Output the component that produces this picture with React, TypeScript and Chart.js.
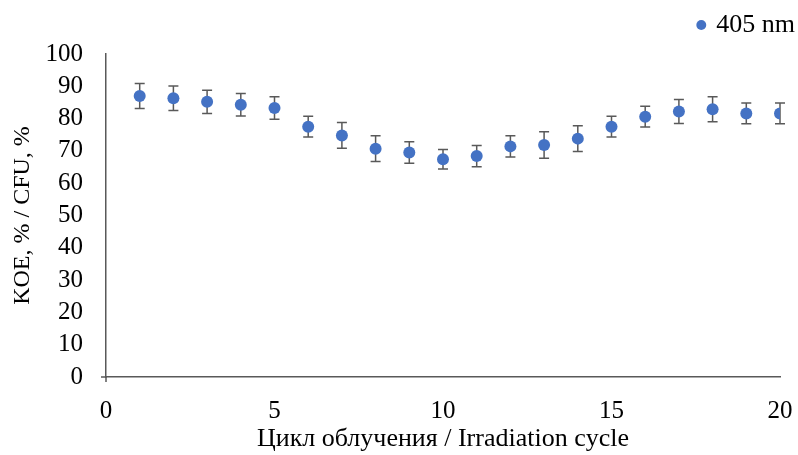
import React, { useEffect, useRef } from "react";
import { Chart, registerables } from "chart.js";

Chart.register(...registerables);

const cycles = [1, 2, 3, 4, 5, 6, 7, 8, 9, 10, 11, 12, 13, 14, 15, 16, 17, 18, 19, 20];
const values = [87.0, 86.3, 85.2, 84.3, 83.3, 77.5, 74.8, 70.7, 69.5, 67.4, 68.4, 71.4, 71.8, 73.8, 77.5, 80.6, 82.2, 82.9, 81.6, 81.6];
const errors = [3.9, 3.8, 3.6, 3.5, 3.5, 3.2, 4.0, 4.0, 3.3, 3.0, 3.3, 3.3, 4.1, 4.0, 3.2, 3.2, 3.7, 3.9, 3.2, 3.2];
const seriesLabel = "405 nm";
const xTitle = "Цикл облучения / Irradiation cycle";
const yTitle = "KOE, % / CFU, %";

const FONT = "'Liberation Serif', 'Times New Roman', serif";

const legendSpacingPlugin = {
  id: "legendSpacing",
  beforeLayout(chart: any) {
    const lg = chart.legend;
    if (lg && !lg._spacingPatched) {
      const orig = lg.fit;
      lg.fit = function () {
        orig.call(this);
        this.height += 6;
      };
      lg._spacingPatched = true;
    }
  },
};

const errorBarPlugin = {
  id: "errorBars",
  beforeDatasetsDraw(chart: any) {
    const { ctx, scales, chartArea } = chart;
    const xs = scales.x;
    const ys = scales.y;
    ctx.save();
    ctx.strokeStyle = "#595959";
    ctx.lineWidth = 1.5;
    ctx.beginPath();
    ctx.moveTo(chartArea.left - 5, chartArea.bottom);
    ctx.lineTo(chartArea.left, chartArea.bottom);
    ctx.moveTo(chartArea.left, chartArea.bottom);
    ctx.lineTo(chartArea.left, chartArea.bottom + 5);
    ctx.stroke();
    cycles.forEach((c, i) => {
      const px = xs.getPixelForValue(c);
      const top = ys.getPixelForValue(values[i] + errors[i]);
      const bot = ys.getPixelForValue(values[i] - errors[i]);
      ctx.beginPath();
      ctx.moveTo(px, top);
      ctx.lineTo(px, bot);
      ctx.moveTo(px - 5, top);
      ctx.lineTo(px + 5, top);
      ctx.moveTo(px - 5, bot);
      ctx.lineTo(px + 5, bot);
      ctx.stroke();
    });
    ctx.restore();
  },
};

export default function App() {
  const ref = useRef<HTMLCanvasElement>(null);
  useEffect(() => {
    if (!ref.current) return;
    const chart = new Chart(ref.current, {
      type: "scatter",
      data: {
        datasets: [
          {
            label: seriesLabel,
            data: cycles.map((c, i) => ({ x: c, y: values[i] })),
            backgroundColor: "#4472C4",
            borderColor: "#4472C4",
            pointRadius: 6,
            pointHoverRadius: 6,
            pointBorderWidth: 0,
          },
        ],
      },
      options: {
        animation: false,
        responsive: false,
        layout: { padding: { left: 8, right: 0, top: 0, bottom: 0 } },
        plugins: {
          tooltip: { enabled: false },
          legend: {
            position: "top",
            align: "end",
            labels: {
              usePointStyle: true,
              pointStyle: "circle",
              boxWidth: 4,
              boxHeight: 7,
              color: "#000",
              font: { family: FONT, size: 26 },
              padding: 3,
            },
          },
        },
        scales: {
          x: {
            type: "linear",
            min: 0,
            max: 20,
            afterFit: (s: any) => {
              s.height = 78;
              s.paddingRight = 18;
            },
            ticks: {
              stepSize: 5,
              autoSkip: false,
              color: "#000",
              font: { family: FONT, size: 25 },
              padding: 19,
            },
            grid: { display: false, drawTicks: false },
            border: { display: true, color: "#595959", width: 1.5 },
            title: {
              display: true,
              text: xTitle,
              color: "#000",
              font: { family: FONT, size: 26 },
              padding: { top: 0, bottom: 0 },
            },
          },
          y: {
            min: 0,
            max: 100,
            afterFit: (s: any) => {
              s.width = 98;
              s.paddingTop = 54;
            },
            ticks: {
              stepSize: 10,
              autoSkip: false,
              color: "#000",
              font: { family: FONT, size: 25 },
              padding: 23,
            },
            grid: { display: false, drawTicks: false },
            border: { display: true, color: "#595959", width: 1.5 },
            title: {
              display: true,
              text: yTitle,
              color: "#000",
              font: { family: FONT, size: 24 },
              padding: { top: 0, bottom: 0 },
            },
          },
        },
      },
      plugins: [legendSpacingPlugin, errorBarPlugin],
    });
    return () => chart.destroy();
  }, []);
  return (
    <div style={{ position: "fixed", left: 0, top: 0, width: 798, height: 455, background: "#fff" }}>
      <canvas ref={ref} width={798} height={455} />
    </div>
  );
}
